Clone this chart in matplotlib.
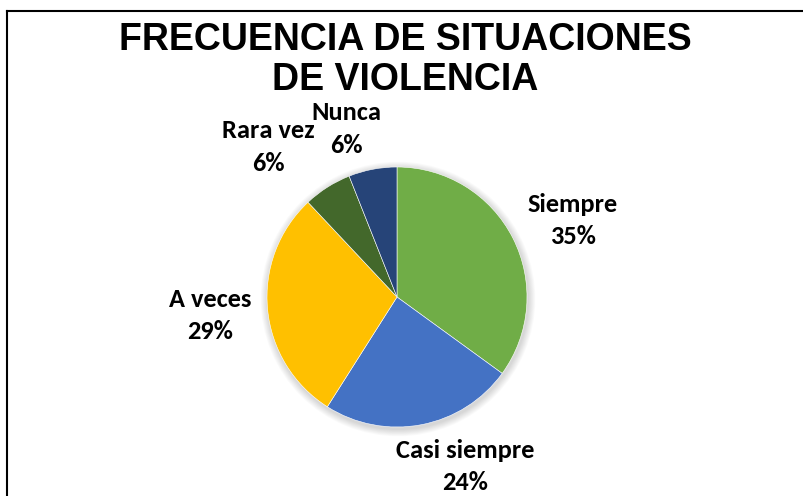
import numpy as np
import matplotlib
matplotlib.use("Agg")
import matplotlib.pyplot as plt
from matplotlib.patches import Circle

title = "FRECUENCIA DE SITUACIONES\nDE VIOLENCIA"
categories = ["Siempre", "Casi siempre", "A veces", "Rara vez", "Nunca"]
percentages = [35, 24, 29, 6, 6]
colors = ["#70AD47", "#4472C4", "#FFC000", "#43682B", "#264478"]

# label placement (radius in pie radii, angle in degrees)
label_pos = [(1.476, 23.5), (1.405, -68.1), (1.445, -174.35), (1.52, 130.7), (1.35, 106.9)]

W, H = 804, 496
fig = plt.figure(figsize=(W / 100, H / 100), dpi=100)
ax = fig.add_axes([0, 0, 1, 1])

cx, cy, R = 397, H - 297, 130

# soft shadow
for i in range(8):
    ax.add_patch(Circle((cx + 1, cy - 2), R + 1 + i * 0.9, color="black",
                        alpha=0.018, lw=0, zorder=1))

wedges, _ = ax.pie(percentages, colors=colors, startangle=90, counterclock=False,
                   center=(cx, cy), radius=R, frame=True,
                   wedgeprops=dict(edgecolor="white", linewidth=0.4, zorder=2))
ax.set_xlim(0, W)
ax.set_ylim(0, H)
ax.set_aspect("equal")
ax.axis("off")

for cat, p, (r, a) in zip(categories, percentages, label_pos):
    x = cx + r * R * np.cos(np.radians(a))
    y = cy + r * R * np.sin(np.radians(a))
    ax.text(x, y, f"{cat}\n{p}%", ha="center", va="center", fontsize=19,
            fontweight="bold", family=["Carlito", "Lato", "DejaVu Sans"],
            linespacing=1.52, color="black", zorder=3)

ax.text(405, H - 60, title, ha="center", va="center", fontsize=27,
        fontweight="bold", family=["Liberation Sans", "DejaVu Sans"],
        linespacing=1.15, color="black")

# chart frame (partially outside the image)
ax.plot([7.5, 7.5], [0, H - 10.5], color="black", lw=1.5, solid_capstyle="projecting")
ax.plot([7.5, W], [H - 10.5, H - 10.5], color="black", lw=1.5, solid_capstyle="projecting")

fig.savefig("out.png", dpi=100, facecolor="white")
